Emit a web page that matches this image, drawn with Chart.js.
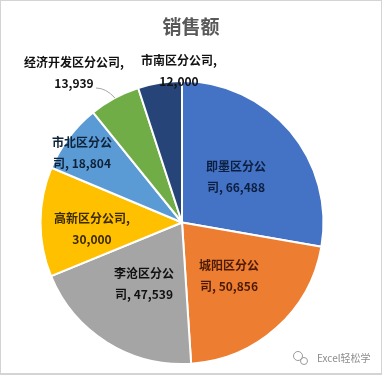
<!DOCTYPE html>
<html>
<head>
<meta charset="utf-8">
<script src="https://cdn.jsdelivr.net/npm/chart.js@4/dist/chart.umd.js"></script>
<style>
  html, body { margin: 0; padding: 0; background: #fff; }
  #wrap { position: relative; width: 382px; height: 375px; box-sizing: border-box; }
  #wrap::after { content: ''; position: absolute; inset: 0; border: 1px solid #d4d4d4; border-bottom-width: 2px; pointer-events: none; }
  canvas { display: block; }
</style>
</head>
<body>
<div id="wrap"><canvas id="pie" width="382" height="375"></canvas></div>
<script>
const categories = ['即墨区分公司', '城阳区分公司', '李沧区分公司', '高新区分公司', '市北区分公司', '经济开发区分公司', '市南区分公司'];
const sales = [66488, 50856, 47539, 30000, 18804, 13939, 12000];
const colors = ['#4472C4', '#ED7D31', '#A5A5A5', '#FFC000', '#5B9BD5', '#70AD47', '#264478'];

// data labels wrap the way Excel wrapped them
const labelLines = [
  ['即墨区分公', '司, 66,488'],
  ['城阳区分公', '司, 50,856'],
  ['李沧区分公', '司, 47,539'],
  ['高新区分公司,', '30,000'],
  ['市北区分公', '司, 18,804'],
  ['经济开发区分公司,', '13,939'],
  ['市南区分公司,', '12,000']
];
const labelPos = [[236, 166], [229, 265], [144, 273], [92, 218], [82, 142], [74, 62], [179, 60]];
const labelColors = ['#0d1f40', '#4a1a04', '#111', '#3a2a00', '#0f2238', '#111', '#111'];

const textFont = '"Noto Sans CJK SC", "Noto Sans", sans-serif';

const pieText = {
  id: 'pieText',
  afterDraw(chart) {
    const ctx = chart.ctx;
    ctx.save();
    ctx.textAlign = 'center';
    ctx.textBaseline = 'middle';

    ctx.fillStyle = '#595959';
    ctx.font = 'bold 19px ' + textFont;
    ctx.fillText('销售额', 191, 27);

    // leader line of the 13,939 label
    ctx.strokeStyle = '#a6a6a6';
    ctx.lineWidth = 1;
    ctx.beginPath();
    ctx.moveTo(96, 88);
    ctx.quadraticCurveTo(106, 88, 115, 98);
    ctx.stroke();

    ctx.font = 'bold 12px ' + textFont;
    labelLines.forEach((lines, i) => {
      ctx.fillStyle = labelColors[i];
      ctx.fillText(lines[0], labelPos[i][0], labelPos[i][1]);
      ctx.fillText(lines[1], labelPos[i][0], labelPos[i][1] + 21);
    });

    // watermark
    ctx.fillStyle = '#8c8c8c';
    ctx.strokeStyle = '#fff';
    ctx.lineWidth = 2;
    ctx.textAlign = 'left';
    ctx.font = '10px ' + textFont;
    ctx.strokeText('Excel轻松学', 317, 358);
    ctx.fillText('Excel轻松学', 317, 358);
    ctx.strokeStyle = '#9a9a9a';
    ctx.lineWidth = 1;
    ctx.beginPath();
    ctx.arc(298, 356, 4.5, 0, Math.PI * 2);
    ctx.stroke();
    ctx.beginPath();
    ctx.arc(304, 361, 3.5, 0, Math.PI * 2);
    ctx.stroke();
    ctx.restore();
  }
};

new Chart(document.getElementById('pie'), {
  type: 'pie',
  data: {
    labels: categories,
    datasets: [{
      data: sales,
      backgroundColor: colors,
      borderColor: '#fff',
      borderWidth: 2
    }]
  },
  options: {
    responsive: false,
    animation: false,
    layout: { padding: { left: 39, right: 57, top: 80, bottom: 10 } },
    plugins: {
      legend: { display: false },
      tooltip: { enabled: false }
    }
  },
  plugins: [pieText]
});
</script>
</body>
</html>
